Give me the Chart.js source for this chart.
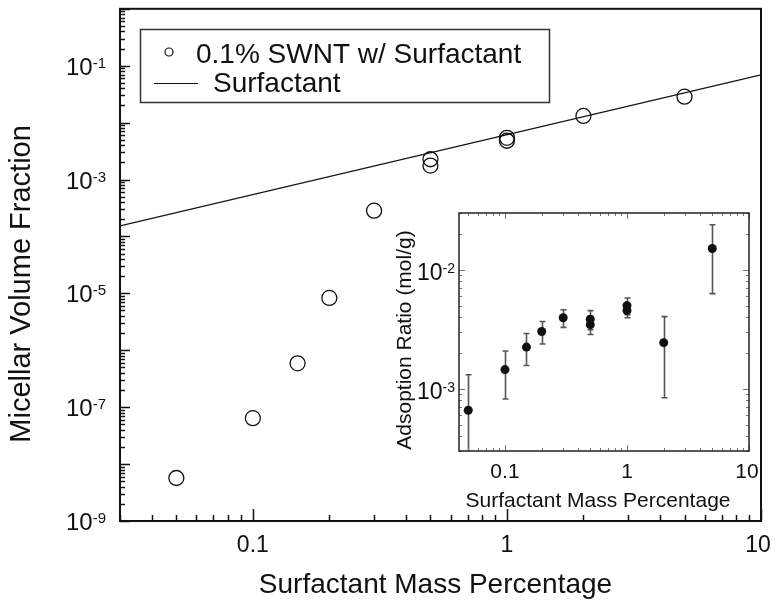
<!DOCTYPE html>
<html>
<head>
<meta charset="utf-8">
<script src="https://cdn.jsdelivr.net/npm/chart.js@4.4.1/dist/chart.umd.min.js"></script>
<style>
  html, body { margin: 0; padding: 0; background: #fff; }
  #wrap { position: relative; width: 776px; height: 600px; }
  #mainChart { position: absolute; left: 0; top: 0; }
  #insetChart { position: absolute; left: 380px; top: 200px; }
</style>
</head>
<body>
<div id="wrap">
  <canvas id="mainChart" width="776" height="600"></canvas>
  <canvas id="insetChart" width="390" height="320"></canvas>
</div>
<script>
// Micellar volume fraction vs surfactant mass percentage (main plot)
const swntConc = [0.05, 0.1, 0.15, 0.2, 0.3, 0.5, 0.5, 1, 1, 2, 5];
const swntFrac = [5.7e-9, 6.4e-8, 5.9e-7, 8.3e-6, 2.84e-4, 2.27e-3, 1.76e-3, 5.4e-3, 4.8e-3, 1.31e-2, 2.86e-2];
const surfConc = [0.03, 10];
const surfFrac = [1.53e-4, 6.9e-2];

// Adsorption ratio (inset), symmetric error bars
const adsConc = [0.05, 0.1, 0.15, 0.2, 0.3, 0.5, 0.5, 1, 1, 2, 5];
const adsRatio = [6.6e-4, 1.45e-3, 2.24e-3, 3.03e-3, 3.95e-3, 3.84e-3, 3.46e-3, 5.0e-3, 4.55e-3, 2.44e-3, 1.51e-2];
const adsErr = [6.5e-4, 6.3e-4, 6.7e-4, 6.5e-4, 6.7e-4, 7e-4, 6e-4, 8e-4, 6e-4, 1.6e-3, 8.8e-3];

// Tick labels
const mainXTicks = [0.1, 1, 10];
const mainXLabels = ['0.1', '1', '10'];
const mainYExp = [-1, -3, -5, -7, -9];
const insetXTicks = [0.1, 1, 10];
const insetXLabels = ['0.1', '1', '10'];
const insetYExp = [-2, -3];

const FONT = '"Liberation Sans", Arial, Helvetica, sans-serif';
const INK = '#111';

function pts(xs, ys) {
    return xs.map((x, i) => ({ x: x, y: ys[i] }));
}

// 1..9 x 10^n positions inside [min, max]
function decadeMarks(min, max) {
    const out = [];
    for (let e = Math.floor(Math.log10(min)); e <= Math.ceil(Math.log10(max)); e++) {
        for (let m = 1; m <= 9; m++) {
            const v = m * Math.pow(10, e);
            if (v >= min * 0.999 && v <= max * 1.001) out.push({ v: v, major: m === 1 });
        }
    }
    return out;
}

// inward tick marks along one edge of the plot area
function edgeTicks(ctx, scale, edge, a, major, minor) {
    decadeMarks(scale.min, scale.max).forEach(t => {
        const p = Math.round(scale.getPixelForValue(t.v)) + 0.5;
        const len = t.major ? major : minor;
        ctx.beginPath();
        if (edge === 'bottom') { ctx.moveTo(p, a.bottom); ctx.lineTo(p, a.bottom - len); }
        else if (edge === 'top') { ctx.moveTo(p, a.top); ctx.lineTo(p, a.top + len); }
        else if (edge === 'left') { ctx.moveTo(a.left, p); ctx.lineTo(a.left + len, p); }
        else { ctx.moveTo(a.right, p); ctx.lineTo(a.right - len, p); }
        ctx.stroke();
    });
}

// "10" with a raised exponent, right-aligned at x
function powerLabel(ctx, exp, x, y, size, supSize) {
    ctx.textAlign = 'right';
    ctx.textBaseline = 'alphabetic';
    ctx.font = supSize + 'px ' + FONT;
    const sup = String(exp);
    const w = ctx.measureText(sup).width;
    ctx.fillText(sup, x, y - Math.round(size * 0.3));
    ctx.font = size + 'px ' + FONT;
    ctx.fillText('10', x - w, y);
}

const mainDecor = {
    id: 'mainDecor',
    afterDraw(chart) {
        const { ctx, chartArea: a, scales: { x, y } } = chart;
        ctx.save();
        ctx.strokeStyle = INK;
        ctx.lineWidth = 2;
        ctx.strokeRect(a.left, a.top, a.right - a.left, a.bottom - a.top);
        ctx.lineWidth = 1.5;
        edgeTicks(ctx, x, 'bottom', a, 12, 6);
        edgeTicks(ctx, y, 'left', a, 10, 5);

        ctx.fillStyle = INK;
        ctx.font = '23px ' + FONT;
        ctx.textAlign = 'center';
        ctx.textBaseline = 'alphabetic';
        mainXTicks.forEach((v, i) => {
            const px = x.getPixelForValue(v) - (i === mainXTicks.length - 1 ? 3 : 0);
            ctx.fillText(mainXLabels[i], px, a.bottom + 31);
        });
        mainYExp.forEach(e => powerLabel(ctx, e, a.left - 14, y.getPixelForValue(Math.pow(10, e)) + 9, 24, 15));

        // axis titles
        ctx.font = '28px ' + FONT;
        ctx.textAlign = 'center';
        ctx.fillText('Surfactant Mass Percentage', (a.left + a.right) / 2 - 5, 593);
        ctx.save();
        ctx.translate(22, (a.top + a.bottom) / 2 + 19);
        ctx.rotate(-Math.PI / 2);
        ctx.font = '29px ' + FONT;
        ctx.textBaseline = 'middle';
        ctx.fillText('Micellar Volume Fraction', 0, 0);
        ctx.restore();

        // legend box
        const ds = chart.data.datasets;
        ctx.lineWidth = 1.5;
        ctx.strokeStyle = '#333';
        ctx.strokeRect(140.5, 29.5, 409, 73);
        ctx.strokeStyle = INK;
        ctx.lineWidth = 1.2;
        ctx.beginPath();
        ctx.arc(169, 52, 4, 0, Math.PI * 2);
        ctx.stroke();
        ctx.beginPath();
        ctx.moveTo(154, 83.5);
        ctx.lineTo(198, 83.5);
        ctx.stroke();
        ctx.font = '28px ' + FONT;
        ctx.textAlign = 'left';
        ctx.fillText(ds[0].label, 196, 63);
        ctx.fillText(ds[1].label, 213, 92);
        ctx.restore();
    }
};

new Chart(document.getElementById('mainChart'), {
    type: 'scatter',
    data: {
        datasets: [{
            label: '0.1% SWNT w/ Surfactant',
            data: pts(swntConc, swntFrac),
            pointStyle: 'circle',
            pointRadius: 7.5,
            borderWidth: 1.3,
            borderColor: INK,
            backgroundColor: 'rgba(0,0,0,0)'
        }, {
            label: 'Surfactant',
            data: pts(surfConc, surfFrac),
            showLine: true,
            pointRadius: 0,
            borderWidth: 1.3,
            borderColor: INK
        }]
    },
    options: {
        responsive: false,
        animation: false,
        events: [],
        layout: { padding: { left: 120, top: 8, right: 15, bottom: 79 } },
        plugins: { legend: { display: false }, tooltip: { enabled: false } },
        scales: {
            x: { type: 'logarithmic', min: 0.03, max: 10, display: false },
            y: { type: 'logarithmic', min: 1e-9, max: 1, display: false }
        }
    },
    plugins: [mainDecor]
});

const insetDecor = {
    id: 'insetDecor',
    beforeDraw(chart) {
        const { ctx, chartArea: a } = chart;
        ctx.save();
        ctx.fillStyle = '#fff';
        ctx.fillRect(a.left, a.top, a.right - a.left, a.bottom - a.top);
        ctx.restore();
    },
    beforeDatasetsDraw(chart) {
        const { ctx, chartArea: a, scales: { x, y } } = chart;
        ctx.save();
        ctx.beginPath();
        ctx.rect(a.left, a.top, a.right - a.left, a.bottom - a.top);
        ctx.clip();
        ctx.strokeStyle = '#555';
        ctx.lineWidth = 1.6;
        adsConc.forEach((c, i) => {
            const px = Math.round(x.getPixelForValue(c)) + 0.5;
            const hi = y.getPixelForValue(adsRatio[i] + adsErr[i]);
            const lo = y.getPixelForValue(Math.max(adsRatio[i] - adsErr[i], 1e-6));
            ctx.beginPath();
            ctx.moveTo(px, hi); ctx.lineTo(px, lo);
            ctx.moveTo(px - 3, hi); ctx.lineTo(px + 3, hi);
            ctx.moveTo(px - 3, lo); ctx.lineTo(px + 3, lo);
            ctx.stroke();
        });
        ctx.restore();
    },
    afterDraw(chart) {
        const { ctx, chartArea: a, scales: { x, y } } = chart;
        ctx.save();
        ctx.strokeStyle = '#777';
        ctx.lineWidth = 1;
        edgeTicks(ctx, x, 'bottom', a, 6, 3);
        edgeTicks(ctx, x, 'top', a, 6, 3);
        edgeTicks(ctx, y, 'left', a, 6, 3);
        edgeTicks(ctx, y, 'right', a, 6, 3);
        ctx.strokeStyle = '#222';
        ctx.lineWidth = 1.5;
        ctx.strokeRect(a.left, a.top, a.right - a.left, a.bottom - a.top);

        ctx.fillStyle = INK;
        ctx.font = '21px ' + FONT;
        ctx.textAlign = 'center';
        ctx.textBaseline = 'alphabetic';
        insetXTicks.forEach((v, i) => {
            const px = x.getPixelForValue(v) - (i === insetXTicks.length - 1 ? 2 : 0);
            ctx.fillText(insetXLabels[i], px, a.bottom + 27);
        });
        insetYExp.forEach(e => powerLabel(ctx, e, a.left - 4, y.getPixelForValue(Math.pow(10, e)) + 10, 23, 14));

        ctx.font = '21px ' + FONT;
        ctx.textAlign = 'center';
        ctx.fillText('Surfactant Mass Percentage', (a.left + a.right) / 2 - 6, a.bottom + 56);
        ctx.save();
        ctx.translate(25, (a.top + a.bottom) / 2 + 8);
        ctx.rotate(-Math.PI / 2);
        ctx.textBaseline = 'middle';
        ctx.fillText('Adsoption Ratio (mol/g)', 0, 0);
        ctx.restore();
        ctx.restore();
    }
};

new Chart(document.getElementById('insetChart'), {
    type: 'scatter',
    data: {
        datasets: [{
            label: 'Adsorption ratio',
            data: pts(adsConc, adsRatio),
            pointRadius: 4.5,
            borderWidth: 0,
            backgroundColor: INK
        }]
    },
    options: {
        responsive: false,
        animation: false,
        events: [],
        layout: { padding: { left: 79, top: 13, right: 21, bottom: 69 } },
        plugins: { legend: { display: false }, tooltip: { enabled: false } },
        scales: {
            x: { type: 'logarithmic', min: 0.042, max: 10, display: false },
            y: { type: 'logarithmic', min: 3e-4, max: 3e-2, display: false }
        }
    },
    plugins: [insetDecor]
});
</script>
</body>
</html>
